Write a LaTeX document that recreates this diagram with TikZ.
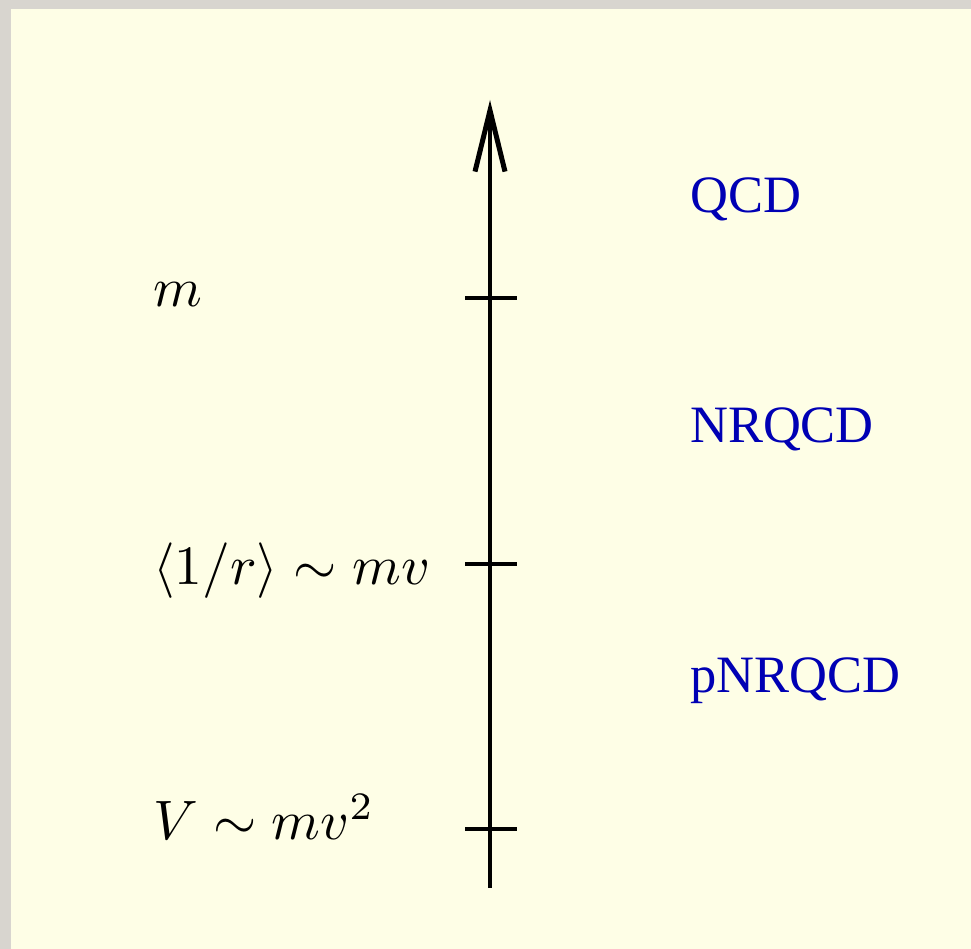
\documentclass[tikz,border=0pt]{standalone}
\usepackage{amsmath,amssymb}
\usepackage{fontspec}
\usepackage{xcolor}
\usepackage{tikz}
\usetikzlibrary{arrows.meta}
\newfontfamily\theoryfont{Liberation Serif}
\definecolor{FrameGrey}{HTML}{D8D5CF}
\definecolor{PaperYellow}{HTML}{FEFEE6}
\definecolor{TheoryBlue}{HTML}{0000B4}

\begin{document}
\begin{tikzpicture}[x=0.18pt, y=-0.18pt,
    scale label/.style={anchor=base west, inner sep=0pt, font=\fontsize{10.3}{12}\selectfont},
    theory label/.style={anchor=base west, inner sep=0pt, text=TheoryBlue,
      font=\theoryfont\fontsize{9.45}{11}\selectfont},
    tick/.style={line width=0.8pt}]
  % background
  \useasboundingbox (0,0) rectangle (971,949);
  \fill[FrameGrey] (0,0) rectangle (971,949);
  \fill[PaperYellow] (11,9) rectangle (971,949);

  % energy axis
  \coordinate (axisLow) at (490,888);
  \coordinate (axisHigh) at (490,100);
  \draw[line width=0.8pt, -{Straight Barb[length=11pt, width=5.4pt, line width=0.9pt]}]
    (axisLow) -- (axisHigh);

  % ticks
  \coordinate (tickM) at (490,298);
  \coordinate (tickMv) at (490,564);
  \coordinate (tickMvv) at (490,829);
  \foreach \t in {tickM,tickMv,tickMvv}
    \draw[tick] ([xshift=-4.5pt]\t) -- ([xshift=4.8pt]\t);

  % scales
  \node[scale label] (scaleM) at (152,307) {$m$};
  \node[scale label] (scaleMv) at (152,585) {$\langle 1/r\rangle \sim mv$};
  \node[scale label] (scaleMvv) at (152,840) {$V \sim mv^2$};

  % effective theories
  \node[theory label] (qcd) at (689,213) {QCD};
  \node[theory label] (nrqcd) at (689,443) {NRQCD};
  \node[theory label] (pnrqcd) at (689,693) {pNRQCD};
\end{tikzpicture}
\end{document}
